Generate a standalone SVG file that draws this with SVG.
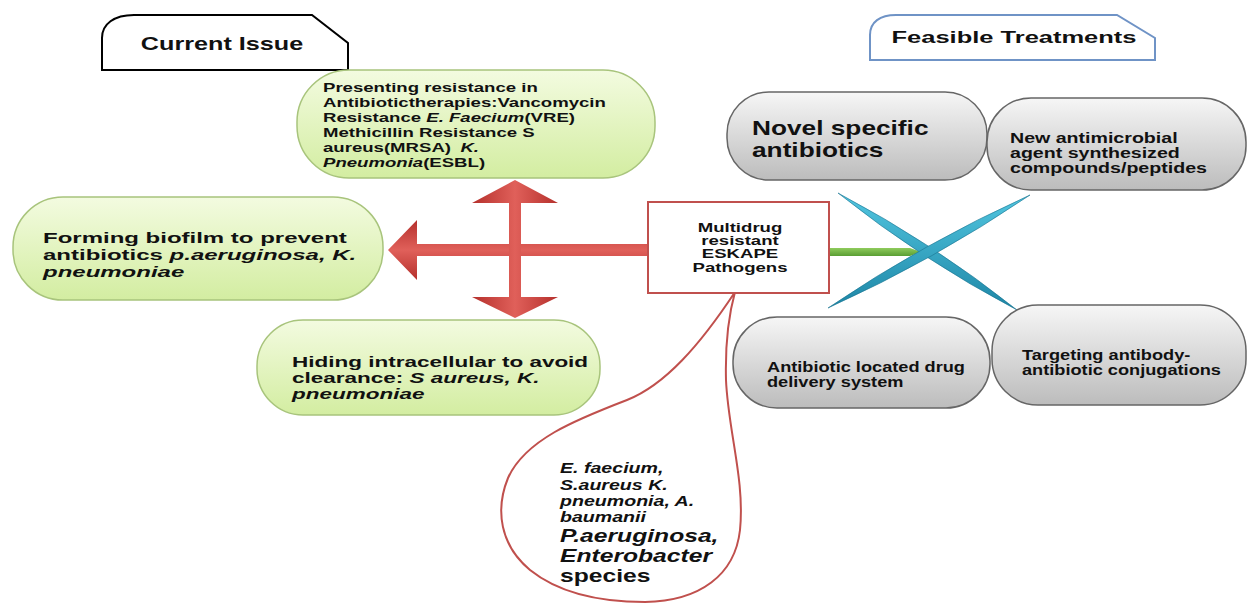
<svg xmlns="http://www.w3.org/2000/svg" width="1248" height="604" viewBox="0 0 1248 604">
<defs>
<linearGradient id="gGreen" x1="0" y1="0" x2="0" y2="1"><stop offset="0" stop-color="#f3fbe0"/><stop offset="1" stop-color="#d3eda1"/></linearGradient>
<linearGradient id="gGray" x1="0" y1="0" x2="0" y2="1"><stop offset="0" stop-color="#f6f6f6"/><stop offset="1" stop-color="#bcbcbc"/></linearGradient>
<linearGradient id="gRedH" x1="0" y1="0" x2="0" y2="1"><stop offset="0" stop-color="#b5302c"/><stop offset="0.5" stop-color="#e0605a"/><stop offset="1" stop-color="#b5302c"/></linearGradient>
<linearGradient id="gRedV" x1="0" y1="0" x2="1" y2="0"><stop offset="0" stop-color="#b5302c"/><stop offset="0.5" stop-color="#e0605a"/><stop offset="1" stop-color="#b5302c"/></linearGradient>
<linearGradient id="gTeal" x1="0" y1="0" x2="0" y2="1"><stop offset="0" stop-color="#52c6e0"/><stop offset="1" stop-color="#1d86a6"/></linearGradient>
<linearGradient id="gLime" x1="0" y1="0" x2="0" y2="1"><stop offset="0" stop-color="#8fcb5c"/><stop offset="1" stop-color="#5a9e33"/></linearGradient>
</defs>
<style>
text{font-family:"Liberation Sans",Arial,sans-serif;font-weight:bold;fill:#111;}
.i{font-style:italic;}
.green{fill:url(#gGreen);stroke:#a8c47c;stroke-width:1.5;}
.gray{fill:url(#gGray);stroke:#666;stroke-width:1.5;}
.red{stroke:#c0504d;stroke-width:2;fill:#fff;}
</style>

<g id="tab-current">
<path d="M102,70 L102,38 C102,24 114,15 134,15 L312,15 L348,43 L348,70 Z" fill="#fff" stroke="#000" stroke-width="2"/>
<text transform="translate(222 50) scale(1.4 1)" x="0" y="0" font-size="18" text-anchor="middle">Current Issue</text>
</g>

<g id="tab-feasible">
<path d="M870,60 L870,35 C870,22 880,15 896,15 L1117,15 L1155,38 L1155,60 Z" fill="#fff" stroke="#6f93c6" stroke-width="2"/>
<text transform="translate(1014 43) scale(1.5 1)" x="0" y="0" font-size="17" text-anchor="middle">Feasible Treatments</text>
</g>

<g id="connectors">
<polygon points="388,250 417,220 417,244 648,244 648,256 417,256 417,280" fill="url(#gRedH)"/>
<polygon points="515,180 558,203 521,203 521,297 558,297 515,318 472,297 509,297 509,203 472,203" fill="url(#gRedV)"/>
<polygon points="829,248 910,248 921,252 910,256 829,256" fill="url(#gLime)"/>
<path d="M838,193 Q922,259.9 1017,310 Q933,243.1 838,193 Z" fill="url(#gTeal)" stroke="#1b7390" stroke-width="0.6"/>
<path d="M828,308 Q933.9,260.2 1030,195 Q924.1,242.8 828,308 Z" fill="url(#gTeal)" stroke="#1b7390" stroke-width="0.6"/>
</g>

<g id="pathogens-callout">
<path class="red" d="M735,292 C700,345 665,385 627,400 C575,420 525,440 508,478 C495,510 500,545 530,570 C560,594 600,602 645,602 C700,601 735,575 740,530 C745,480 728,430 726,380 C725,340 730,310 735,292 Z"/>
<g transform="translate(560 0) scale(1.4 1)">
<text class="i" x="0" y="473" font-size="14">E. faecium,</text>
<text class="i" x="0" y="490" font-size="14">S.aureus K.</text>
<text class="i" x="0" y="506" font-size="14">pneumonia, A.</text>
<text class="i" x="0" y="522" font-size="14">baumanii</text>
</g>
<g transform="translate(560 0) scale(1.37 1)">
<text class="i" x="0" y="542" font-size="18">P.aeruginosa,</text>
<text class="i" x="0" y="562" font-size="18">Enterobacter</text>
<text x="0" y="582" font-size="18">species</text>
</g>
</g>

<g id="resistance">
<rect class="green" x="297" y="70" width="358" height="108" rx="52" ry="52"/>
<g transform="translate(323 0) scale(1.43 1)" font-size="13">
<text x="0" y="92">Presenting resistance in</text>
<text x="0" y="107">Antibiotictherapies:Vancomycin</text>
<text x="0" y="122">Resistance <tspan class="i">E. Faecium</tspan>(VRE)</text>
<text x="0" y="137">Methicillin Resistance S</text>
<text x="0" y="152">aureus(MRSA) <tspan class="i" dx="3">K.</tspan></text>
<text x="0" y="167"><tspan class="i">Pneumonia</tspan>(ESBL)</text>
</g>
</g>

<g id="biofilm">
<rect class="green" x="13" y="197" width="370" height="103" rx="50" ry="50"/>
<g transform="translate(43 0) scale(1.6 1)" font-size="15">
<text x="0" y="243">Forming biofilm to prevent</text>
<text x="0" y="260">antibiotics <tspan class="i">p.aeruginosa, K.</tspan></text>
<text class="i" x="0" y="277">pneumoniae</text>
</g>
</g>

<g id="intracellular">
<rect class="green" x="257" y="320" width="343" height="95" rx="46" ry="46"/>
<g transform="translate(292 0) scale(1.5 1)" font-size="15">
<text x="0" y="367">Hiding intracellular to avoid</text>
<text x="0" y="383">clearance: <tspan class="i">S aureus, K.</tspan></text>
<text class="i" x="0" y="399">pneumoniae</text>
</g>
</g>

<g id="multidrug">
<rect x="648" y="202" width="181" height="91" fill="#fff" stroke="#c0504d" stroke-width="2"/>
<g transform="translate(740 0) scale(1.55 1)" font-size="12" text-anchor="middle">
<text x="0" y="232">Multidrug</text>
<text x="0" y="245">resistant</text>
<text x="0" y="258">ESKAPE</text>
<text x="0" y="272">Pathogens</text>
</g>
</g>

<g id="novel">
<rect class="gray" x="727" y="92" width="260" height="88" rx="42" ry="42"/>
<g transform="translate(752 0) scale(1.25 1)" font-size="21">
<text x="0" y="135">Novel specific</text>
<text x="0" y="157">antibiotics</text>
</g>
</g>

<g id="antimicrobial">
<rect class="gray" x="987" y="98" width="259" height="92" rx="44" ry="44"/>
<g transform="translate(1010 0) scale(1.4 1)" font-size="14">
<text x="0" y="143">New antimicrobial</text>
<text x="0" y="158">agent synthesized</text>
<text x="0" y="173">compounds/peptides</text>
</g>
</g>

<g id="delivery">
<rect class="gray" x="733" y="317" width="257" height="91" rx="44" ry="44"/>
<g transform="translate(767 0) scale(1.3 1)" font-size="14">
<text x="0" y="372">Antibiotic located drug</text>
<text x="0" y="387">delivery system</text>
</g>
</g>

<g id="conjugation">
<rect class="gray" x="992" y="305" width="254" height="100" rx="46" ry="46"/>
<g transform="translate(1022 0) scale(1.3 1)" font-size="14">
<text x="0" y="360">Targeting antibody-</text>
<text x="0" y="375">antibiotic conjugations</text>
</g>
</g>
</svg>
